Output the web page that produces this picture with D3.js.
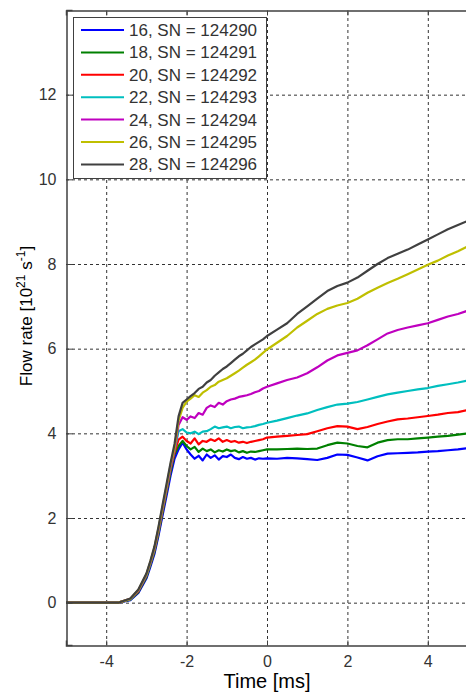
<!DOCTYPE html>
<html>
<head>
<meta charset="utf-8">
<script src="https://cdn.jsdelivr.net/npm/d3@7"></script>
<style>
  body { margin: 0; background: #fff; }
  svg { display: block; font-family: "Liberation Sans", Arial, sans-serif; }
</style>
</head>
<body>
<div id="chart"></div>
<script>
const width = 466;
const height = 692;
const margin = { top: 10, right: -2, bottom: 47, left: 66 };

// time axis [ms]
const time = [-5, -3.7, -3.4, -3.2, -3.0, -2.9, -2.8, -2.7, -2.6, -2.5, -2.4, -2.3,
  -2.2, -2.1, -2.0, -1.9, -1.8, -1.7, -1.6, -1.5, -1.4, -1.3, -1.2, -1.1, -1.0,
  -0.9, -0.8, -0.7, -0.6, -0.5, -0.4, -0.3, -0.2, -0.1,
  0, 0.25, 0.5, 0.75, 1.0, 1.25, 1.5, 1.75, 2.0, 2.25, 2.5, 2.75, 3.0, 3.25,
  3.5, 3.75, 4.0, 4.25, 4.5, 4.75, 5.0];

const labels = ["16, SN = 124290", "18, SN = 124291", "20, SN = 124292", "22, SN = 124293",
  "24, SN = 124294", "26, SN = 124295", "28, SN = 124296"];
const colors = ["#0000ff", "#008000", "#ff0000", "#00bfbf", "#bf00bf", "#bfbf00", "#404040"];

const flow16 = [0, 0, 0.06, 0.23, 0.57, 0.85, 1.15, 1.58, 2.05, 2.52, 3.0, 3.4,
  3.62, 3.78, 3.62, 3.5, 3.4, 3.47, 3.36, 3.5, 3.42, 3.48, 3.38, 3.46, 3.44,
  3.5, 3.42, 3.39, 3.44, 3.4, 3.42, 3.38, 3.41, 3.4,
  3.41, 3.4, 3.42, 3.41, 3.39, 3.37, 3.42, 3.5, 3.49, 3.43, 3.36, 3.46, 3.52, 3.53,
  3.54, 3.55, 3.57, 3.58, 3.6, 3.62, 3.65];
const flow18 = [0, 0, 0.07, 0.25, 0.6, 0.89, 1.2, 1.63, 2.12, 2.6, 3.08, 3.5,
  3.7, 3.82, 3.7, 3.62, 3.68, 3.56, 3.64, 3.58, 3.62, 3.55, 3.6, 3.57, 3.62,
  3.58, 3.6, 3.55, 3.58, 3.54, 3.57, 3.56, 3.58, 3.6,
  3.62, 3.62, 3.63, 3.64, 3.63, 3.64, 3.72, 3.78, 3.76, 3.7, 3.67, 3.78, 3.84, 3.86,
  3.86, 3.88, 3.9, 3.92, 3.94, 3.97, 4.0];
const flow20 = [0, 0, 0.08, 0.27, 0.63, 0.92, 1.24, 1.68, 2.17, 2.65, 3.15, 3.55,
  3.85, 3.92, 3.82, 3.76, 3.88, 3.74, 3.82, 3.8, 3.86, 3.82, 3.88, 3.8, 3.84,
  3.8, 3.82, 3.78, 3.8, 3.77, 3.8, 3.82, 3.84, 3.86,
  3.9, 3.92, 3.94, 3.96, 3.98, 4.05, 4.12, 4.17, 4.16, 4.1, 4.15, 4.22, 4.28, 4.33,
  4.35, 4.38, 4.41, 4.44, 4.48, 4.5, 4.55];
const flow22 = [0, 0, 0.08, 0.28, 0.64, 0.93, 1.26, 1.7, 2.2, 2.68, 3.18, 3.6,
  4.05, 4.1, 4.02, 4.0, 4.04, 3.98, 4.04, 4.05, 4.1, 4.16, 4.12, 4.14, 4.16,
  4.12, 4.15, 4.16, 4.12, 4.14, 4.15, 4.17, 4.2, 4.22,
  4.25, 4.3, 4.36, 4.42, 4.47, 4.55, 4.62, 4.68, 4.7, 4.74, 4.8, 4.86, 4.92, 4.96,
  5.0, 5.04, 5.07, 5.12, 5.16, 5.2, 5.25];
const flow24 = [0, 0, 0.09, 0.29, 0.66, 0.95, 1.28, 1.72, 2.22, 2.7, 3.2, 3.6,
  4.2, 4.38, 4.32, 4.4, 4.36, 4.48, 4.44, 4.6, 4.66, 4.62, 4.72, 4.68, 4.76,
  4.8, 4.82, 4.86, 4.88, 4.9, 4.93, 4.97, 5.0, 5.06,
  5.1, 5.18, 5.26, 5.32, 5.42, 5.56, 5.72, 5.84, 5.9, 5.96, 6.08, 6.22, 6.36, 6.44,
  6.5, 6.55, 6.6, 6.68, 6.76, 6.82, 6.9];
const flow26 = [0, 0, 0.09, 0.3, 0.67, 0.97, 1.3, 1.75, 2.25, 2.74, 3.25, 3.65,
  4.3, 4.6, 4.75, 4.82, 4.9, 4.86, 4.96, 5.02, 5.1, 5.14, 5.22, 5.26, 5.3,
  5.36, 5.42, 5.48, 5.55, 5.62, 5.68, 5.74, 5.82, 5.9,
  5.98, 6.14, 6.3, 6.5, 6.66, 6.82, 6.94, 7.02, 7.08, 7.18, 7.32, 7.44, 7.55, 7.65,
  7.76, 7.87, 7.98, 8.08, 8.2, 8.3, 8.42];
const flow28 = [0, 0, 0.1, 0.31, 0.69, 0.99, 1.33, 1.79, 2.3, 2.8, 3.3, 3.75,
  4.4, 4.72, 4.8, 4.88, 4.95, 5.05, 5.1, 5.2, 5.26, 5.36, 5.44, 5.52, 5.58,
  5.66, 5.74, 5.82, 5.88, 5.96, 6.04, 6.1, 6.16, 6.22,
  6.3, 6.45, 6.6, 6.82, 7.0, 7.18, 7.36, 7.48, 7.56, 7.68, 7.84, 8.0, 8.14, 8.24,
  8.34, 8.46, 8.58, 8.7, 8.82, 8.92, 9.02];

const xTicks = [-4, -2, 0, 2, 4];
const yTicks = [0, 2, 4, 6, 8, 10, 12];

const series = [flow16, flow18, flow20, flow22, flow24, flow26, flow28];

const xScale = d3.scaleLinear()
    .domain([-5, 5])
    .range([margin.left, width - margin.right]);

const yScale = d3.scaleLinear()
    .domain([-1, 14])
    .range([height - margin.bottom, margin.top]);

const svg = d3.select("#chart")
    .append("svg")
    .attr("width", width)
    .attr("height", height);

const axisColor = "#404040";
const x0 = margin.left, x1 = width - margin.right;
const y0 = height - margin.bottom, y1 = margin.top;

// dashed grid
svg.selectAll(".xGrid")
    .data(xTicks)
    .enter()
    .append("line")
    .attr("x1", d => xScale(d) + 0.5)
    .attr("x2", d => xScale(d) + 0.5)
    .attr("y1", y0)
    .attr("y2", y1)
    .attr("stroke", "#333")
    .attr("stroke-width", 1)
    .attr("stroke-dasharray", "3,3");

svg.selectAll(".yGrid")
    .data(yTicks)
    .enter()
    .append("line")
    .attr("x1", x0)
    .attr("x2", x1)
    .attr("y1", d => yScale(d) + 0.5)
    .attr("y2", d => yScale(d) + 0.5)
    .attr("stroke", "#333")
    .attr("stroke-width", 1)
    .attr("stroke-dasharray", "3,3");

// data lines
const line = d3.line()
    .x((d, i) => xScale(time[i]))
    .y(d => yScale(d));

series.forEach((s, k) => {
    svg.append("path")
        .datum(s)
        .attr("fill", "none")
        .attr("stroke", colors[k])
        .attr("stroke-width", 2.2)
        .attr("stroke-linejoin", "round")
        .attr("d", line);
});

// axes, ticks inside
const xAxis = d3.axisBottom(xScale).tickValues(xTicks).tickSize(-5).tickPadding(10)
    .tickFormat(d => d);
const yAxis = d3.axisLeft(yScale).tickValues(yTicks).tickSize(-6).tickPadding(10)
    .tickFormat(d => d);

const gx = svg.append("g")
    .attr("transform", `translate(0,${y0 + 0.5})`)
    .call(xAxis);
const gy = svg.append("g")
    .attr("transform", `translate(${x0 + 0.5},0)`)
    .call(yAxis);

svg.append("g")
    .attr("transform", `translate(0,${y1 + 0.5})`)
    .call(d3.axisTop(xScale).tickValues(xTicks).tickSize(-5).tickFormat(""));

[gx, gy].forEach(g => {
    g.selectAll(".tick text")
        .attr("fill", "#333")
        .style("font-size", "16px")
        .style("font-family", "Liberation Sans, Arial, sans-serif");
});
svg.selectAll("g .domain").attr("stroke", axisColor).attr("stroke-width", 1.5);
svg.selectAll("g .tick line").attr("stroke", axisColor);

// legend
const legend = svg.append("g");
legend.append("rect")
    .attr("x", 73.5)
    .attr("y", 17.5)
    .attr("width", 193)
    .attr("height", 161)
    .attr("fill", "#fff")
    .attr("stroke", axisColor)
    .attr("stroke-width", 1);

labels.forEach((lab, k) => {
    const yy = 30 + k * 22.4;
    legend.append("line")
        .attr("x1", 81)
        .attr("x2", 124)
        .attr("y1", yy)
        .attr("y2", yy)
        .attr("stroke", colors[k])
        .attr("stroke-width", 2);
    legend.append("text")
        .attr("x", 129)
        .attr("y", yy + 6)
        .style("font-size", "17px")
        .style("fill", "#333")
        .text(lab);
});

// axis labels
svg.append("text")
    .attr("x", xScale(0))
    .attr("y", 688)
    .style("text-anchor", "middle")
    .style("font-size", "20px")
    .style("fill", "#000")
    .text("Time [ms]");

const ylab = svg.append("text")
    .attr("transform", "translate(32,316) rotate(-90)")
    .style("text-anchor", "middle")
    .style("font-size", "17px")
    .style("fill", "#000");
ylab.append("tspan").text("Flow rate [10");
ylab.append("tspan").attr("dy", -7).style("font-size", "12px").text("21");
ylab.append("tspan").attr("dy", 7).text(" s");
ylab.append("tspan").attr("dy", -7).style("font-size", "12px").text("-1");
ylab.append("tspan").attr("dy", 7).text("]");
</script>
</body>
</html>
